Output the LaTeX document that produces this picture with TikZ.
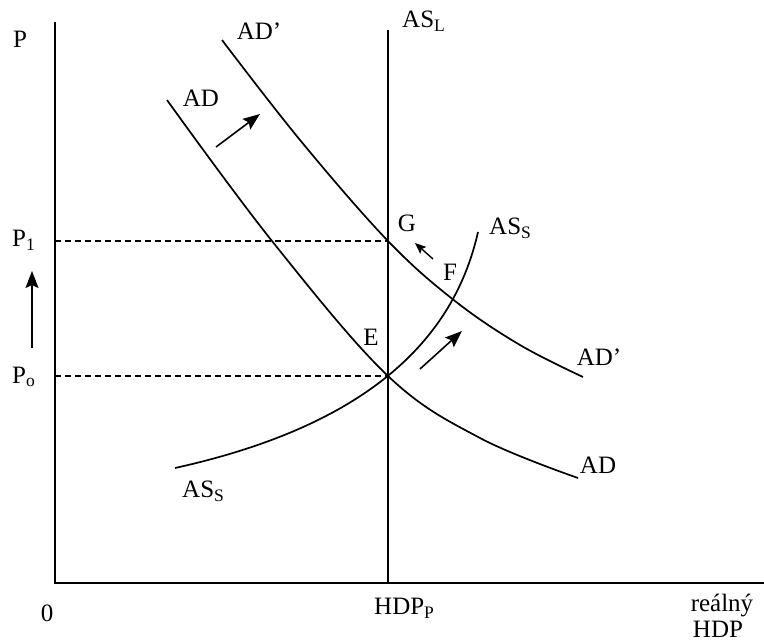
\documentclass[tikz,border=0pt]{standalone}
\usepackage{fontspec}
\setmainfont{Liberation Serif}
\usetikzlibrary{arrows.meta}
\newcommand{\sub}[1]{\textsubscript{#1}}
\begin{document}
\begin{tikzpicture}[x=1pt,y=-1pt,
  axis/.style={line width=2.8pt},
  curve/.style={line width=1.7pt},
  guide/.style={line width=1.2pt,dash pattern=on 6pt off 4pt},
  movearrow/.style={line width=1.6pt,-{Stealth[length=17pt,width=13pt,inset=3pt]}},
  lbl/.style={inner sep=0pt,font=\fontsize{25}{27}\selectfont},
  every node/.style={text=black}]
\useasboundingbox (0,0) rectangle (764,642);
% key points
\coordinate (O) at (55,583);
\coordinate (ytop) at (55,22);
\coordinate (xend) at (764,583);
\coordinate (ALtop) at (388,30);
\coordinate (ALbot) at (388,583);
\coordinate (E) at (388,376);
\coordinate (G) at (388,241);
\coordinate (F) at (455,301);
\coordinate (P0) at (55,376);
\coordinate (P1) at (55,241);
% axes
\draw[axis] (ytop) -- (O) -- (xend);
% long-run AS
\draw[curve] (ALtop) -- (ALbot);
% dashed guides
\draw[guide] (P1) -- (G);
\draw[guide] (P0) -- (E);
% AD
\draw[curve] plot[smooth,tension=0.6] coordinates {(167,100) (272,241) (388,376) (480,438) (578,478)};
% AD'
\draw[curve] plot[smooth,tension=0.6] coordinates {(222,40) (300,140) (388,241) (455,301) (520,345) (583,377)};
% AS short-run
\draw[curve] (175,468) .. controls (356,428) and (452,348) .. (478,232);
% shift arrows
\coordinate (a1s) at (216,147); \coordinate (a1e) at (260,114);
\coordinate (a2s) at (433,259); \coordinate (a2e) at (415,243);
\coordinate (a3s) at (420,369); \coordinate (a3e) at (462,331);
\coordinate (a4s) at (32,348);  \coordinate (a4e) at (32,271);
\draw[movearrow] (a1s) -- (a1e);
\draw[line width=1.4pt,-{Stealth[length=11pt,width=9pt,inset=2pt]}] (a2s) -- (a2e);
\draw[movearrow] (a3s) -- (a3e);
\draw[movearrow] (a4s) -- (a4e);
% labels
\node[lbl] (lP) at (20,39) {P};
\node[lbl] (lADp) at (259,31) {AD'};
\node[lbl] (lAD) at (201,98) {AD};
\node[lbl,anchor=west] (lASL) at (402,21) {AS\sub{L}};
\node[lbl] (lG) at (407,223) {G};
\node[lbl] (lF) at (450,272) {F};
\node[lbl,anchor=west] (lASS1) at (489,228) {AS\sub{S}};
\node[lbl] (lE) at (371,337) {E};
\node[lbl] (lADp2) at (599,357) {AD'};
\node[lbl] (lAD2) at (598,465) {AD};
\node[lbl,anchor=west] (lASS2) at (182,491) {AS\sub{S}};
\node[lbl,anchor=west] (lP1) at (12,240) {P\sub{1}};
\node[lbl,anchor=west] (lP0) at (12,377) {P\sub{o}};
\node[lbl] (l0) at (47,613) {0};
\node[lbl,anchor=west] (lHDP) at (374,608) {HDP\sub{P}};
\node[lbl,anchor=base] (lreal) at (722,611) {reálný};
\node[lbl,anchor=base] (lhdp) at (718,637) {HDP};
\end{tikzpicture}
\end{document}
